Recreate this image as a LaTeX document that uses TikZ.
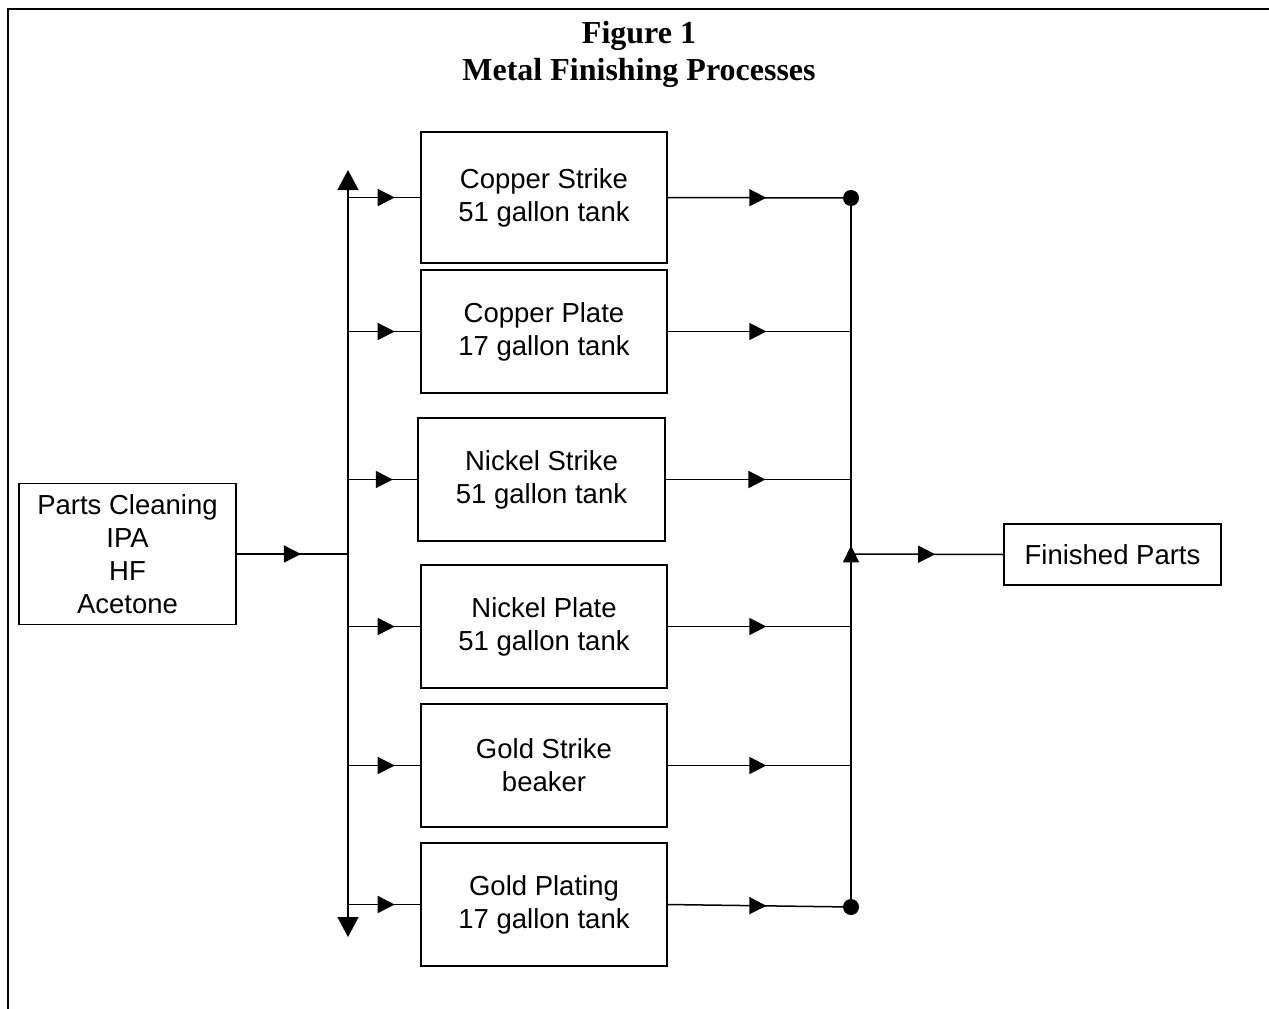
\documentclass[tikz,border=0pt]{standalone}
\usepackage{fontspec}
\setmainfont{Liberation Serif}
\newfontfamily\arialf{Liberation Sans}
\usetikzlibrary{arrows.meta,decorations.markings}
\tikzset{
  procbox/.style={draw, line width=1.5pt, align=center, font=\arialf\fontsize{27.5}{33}\selectfont, inner sep=0pt, outer sep=0pt},
  conn/.style={line width=1.5pt},
  midarrow/.style={conn, postaction={decorate}, decoration={markings, mark=at position #1 with {\arrow{Triangle[length=17pt,width=17pt]}}}},
  uparrow/.style={conn, postaction={decorate}, decoration={markings, mark=at position #1 with {\arrow{Triangle[length=17pt,width=16pt]}}}},
  busend/.style={conn, {Triangle[length=20pt,width=21pt]}-{Triangle[length=20pt,width=21pt]}},
  junc/.style={circle, fill=black, inner sep=0pt, minimum size=16pt},
  frame/.style={line width=2.4pt},
  titlef/.style={font=\bfseries\fontsize{32}{37}\selectfont, anchor=base, inner sep=0pt}
}
\begin{document}
\begin{tikzpicture}[x=1pt,y=-1pt]
\useasboundingbox (0,0) rectangle (1269,1009);
\fill[white] (0,0) rectangle (1269,1009);
% frame
\coordinate (fBL) at (8,1009);
\coordinate (fTL) at (8,9);
\coordinate (fTR) at (1269,9);
\draw[frame] (fBL) -- (fTL) -- (fTR);
% title
\node[titlef] (title1) at (639,43) {Figure 1};
\node[titlef] (title2) at (639,80) {Metal Finishing Processes};
% boxes
\node[procbox, minimum width=217pt, minimum height=141pt] (clean) at (127.5,554) {Parts Cleaning\\IPA\\HF\\Acetone};
\node[procbox, minimum width=246pt, minimum height=131pt] (cs) at (544,197.5) {Copper Strike\\51 gallon tank};
\node[procbox, minimum width=246pt, minimum height=123pt] (cp) at (544,331.5) {Copper Plate\\17 gallon tank};
\node[procbox, minimum width=247pt, minimum height=123pt] (ns) at (541.5,479.5) {Nickel Strike\\51 gallon tank};
\node[procbox, minimum width=246pt, minimum height=123pt] (np) at (544,626.5) {Nickel Plate\\51 gallon tank};
\node[procbox, minimum width=246pt, minimum height=123pt] (gs) at (544,765.5) {Gold Strike\\beaker};
\node[procbox, minimum width=246pt, minimum height=123pt] (gp) at (544,904.5) {Gold Plating\\17 gallon tank};
\node[procbox, minimum width=217pt, minimum height=61pt] (fp) at (1112.5,554.5) {Finished Parts};
% left bus
\coordinate (busT) at (348,170);
\coordinate (busB) at (348,937);
\draw[busend] (busT) -- (busB);
\coordinate (Lin) at (348,554);
\coordinate (L1) at (348,197.5);
\coordinate (L2) at (348,331.5);
\coordinate (L3) at (348,479.5);
\coordinate (L4) at (348,626.5);
\coordinate (L5) at (348,765.5);
\coordinate (L6) at (348,904.5);
\draw[midarrow=0.58] (clean.east) -- (Lin);
\draw[midarrow=0.64] (L1) -- (cs.west);
\draw[midarrow=0.64] (L2) -- (cp.west);
\draw[midarrow=0.64] (L3) -- (ns.west);
\draw[midarrow=0.64] (L4) -- (np.west);
\draw[midarrow=0.64] (L5) -- (gs.west);
\draw[midarrow=0.64] (L6) -- (gp.west);
% right bus
\node[junc] (dotT) at (851,198) {};
\node[junc] (dotB) at (851,907) {};
\coordinate (R1) at (851,198);
\coordinate (R2) at (851,331.5);
\coordinate (R3) at (851,479.5);
\coordinate (R4) at (851,626.5);
\coordinate (R5) at (851,765.5);
\coordinate (R6) at (851,907);
\coordinate (Rout) at (851,554);
\draw[uparrow=0.51] (R6) -- (R1);
\draw[midarrow=0.54] (cs.east) -- (R1);
\draw[midarrow=0.54] (cp.east) -- (R2);
\draw[midarrow=0.54] (ns.east) -- (R3);
\draw[midarrow=0.54] (np.east) -- (R4);
\draw[midarrow=0.54] (gs.east) -- (R5);
\draw[midarrow=0.54] (gp.east) -- (R6);
\draw[midarrow=0.55] (Rout) -- (fp.west);
\end{tikzpicture}
\end{document}
